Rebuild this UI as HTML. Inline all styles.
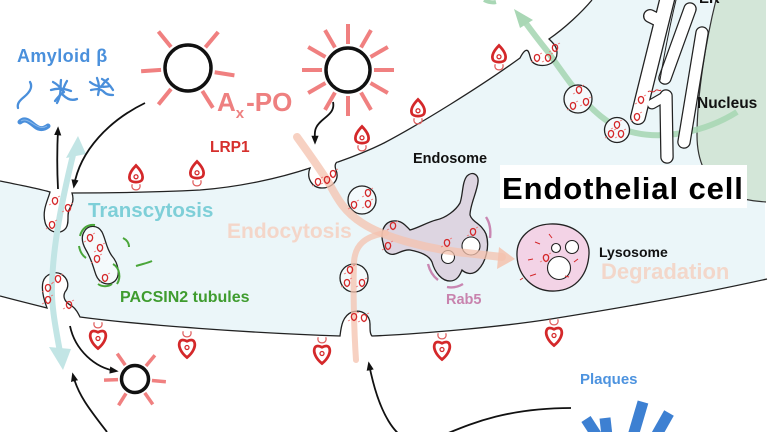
<!DOCTYPE html>
<html><head><meta charset="utf-8">
<style>
html,body{margin:0;padding:0;background:#fff;}
svg{display:block;}
text{font-family:"Liberation Sans",Arial,sans-serif;font-weight:bold;}
</style></head>
<body>
<svg width="768" height="432" viewBox="0 0 768 432" xmlns="http://www.w3.org/2000/svg">
<defs>
  <marker id="ah" viewBox="0 0 10 10" refX="7" refY="5" markerWidth="9" markerHeight="9" markerUnits="userSpaceOnUse" orient="auto">
    <path d="M0,1 L10,5 L0,9 z" fill="#111"/>
  </marker>
  <g id="ru">
    <path d="M0,-22 C-4,-18 -6,-14 -5,-11 C-4,-8 4,-8 5,-11 C6,-14 4,-18 0,-22 Z" stroke="#d4282a" stroke-width="2.2" fill="none"/>
    <circle cx="0" cy="-13" r="1.6" stroke="#d4282a" stroke-width="1" fill="none"/>
    <path d="M-3,-7 C-5,-1 5,-1 3,-7" stroke="#e06060" stroke-width="1" fill="none"/>
  </g>
  <g id="rd">
    <path d="M-3,1 C-5,7 5,7 3,1" stroke="#e06060" stroke-width="1" fill="none"/>
    <path d="M0,22 C-5,18 -7,13 -6,10 C-5,7 -2,8 0,9 C2,8 5,7 6,10 C7,13 5,18 0,22 Z" stroke="#d4282a" stroke-width="2.2" fill="none"/>
    <circle cx="0" cy="14" r="1.6" stroke="#d4282a" stroke-width="1" fill="none"/>
  </g>
  <g id="dt">
    <path d="M0,-3.5 C3.5,-3 3.5,2 0,3.5 C-3.5,2 -3.5,-3 0,-3.5 Z" stroke="#d4282a" stroke-width="1.3" fill="none"/>
    <path d="M3,-4 L5,-5 M-4,3 L-6,4" stroke="#e77" stroke-width="0.8"/>
  </g>
</defs>

<rect width="768" height="432" fill="#fff"/>

<!-- cell body -->
<path fill="#ebf6f9" d="M0,181 C20,185 40,189 50,192 C48,200 42,210 45,222 C47,232 60,236 66,228 C70,222 66,214 70,208 C74,202 73,196 72,193 C110,193 160,192 200,190 C240,187 280,178 310,168 C306,178 312,188 322,188 C332,188 340,180 336,170 C334,165 336,162 338,162 C355,156 370,150 384,143 C420,124 480,87 520,58 C523,52 527,47 529,53 C531,58 530,63 538,65 C548,67 557,62 557,53 C557,46 552,42 549,39 C565,28 582,12 592,0 L765,0 L765,279 L767,279 C700,294 620,308 551,319 C500,327 420,334 372,336 C370,334 370,330 370,324 C370,315 362,309 352,312 C342,316 341,328 340,336 C250,333 140,325 80,317 C78,313 76,309 72,306 C66,303 62,298 65,292 C70,286 68,278 61,274 C55,271 45,274 43,282 C41,290 44,300 47,308 C35,305 15,300 0,296 Z"/>

<!-- nucleus -->
<path d="M716,0 C706,40 697,95 697,135 C697,160 705,180 725,192 C738,199 752,201 766,202 L766,0 Z" fill="#d3e6d8"/>
<path d="M716,0 C706,40 697,95 697,135 C697,160 705,180 725,192 C738,199 752,201 766,202" fill="none" stroke="#333" stroke-width="1.2"/>

<!-- green arrow -->
<path d="M737,112 C705,132 660,142 625,130 C595,120 575,90 548,52 C540,42 533,33 525,22" fill="none" stroke="#a9d7b5" stroke-width="6" stroke-opacity="0.9"/>
<polygon points="514,9 533,20 520,28" fill="#a9d7b5"/>
<path d="M484,0 C488,2 492,3 496,2" stroke="#a9d7b5" stroke-width="4" fill="none"/>

<!-- ER / golgi tubes -->
<g stroke-linecap="round" fill="none">
  <g stroke="#222">
    <line x1="668" y1="-4" x2="638" y2="117" stroke-width="16"/>
    <line x1="650" y1="16" x2="662" y2="22" stroke-width="14"/>
    <line x1="690" y1="9" x2="665" y2="78" stroke-width="13.5"/>
    <line x1="702" y1="33" x2="684" y2="142" stroke-width="13.5"/>
    <line x1="666" y1="96" x2="667" y2="157" stroke-width="13.5"/>
    <line x1="652" y1="104" x2="666" y2="96" stroke-width="11"/>
  </g>
  <g stroke="#fff">
    <line x1="668" y1="-4" x2="638" y2="117" stroke-width="13.4"/>
    <line x1="650" y1="16" x2="662" y2="22" stroke-width="11.4"/>
    <line x1="690" y1="9" x2="665" y2="78" stroke-width="11"/>
    <line x1="702" y1="33" x2="684" y2="142" stroke-width="11"/>
    <line x1="666" y1="96" x2="667" y2="157" stroke-width="11"/>
    <line x1="652" y1="104" x2="666" y2="96" stroke-width="8.6"/>
  </g>
  <path d="M676,0 C670,25 665,50 660,80" stroke="#222" stroke-width="1"/>
</g>
<text x="699" y="3" font-size="15" fill="#111">ER</text>

<!-- membranes -->
<g fill="none" stroke="#222" stroke-width="1.3">
<path d="M0,181 C20,185 40,189 50,192 C48,200 42,210 45,222 C47,232 60,236 66,228 C70,222 66,214 70,208 C74,202 73,196 72,193 C110,193 160,192 200,190 C240,187 280,178 310,168 C306,178 312,188 322,188 C332,188 340,180 336,170 C334,165 336,162 338,162 C355,156 370,150 384,143 C420,124 480,87 520,58 C523,52 527,47 529,53 C531,58 530,63 538,65 C548,67 557,62 557,53 C557,46 552,42 549,39 C565,28 582,12 592,0"/>
<path d="M0,296 C15,300 35,305 47,308 C44,300 41,290 43,282 C45,274 55,271 61,274 C68,278 70,286 65,292 C62,298 66,303 72,306 C76,309 78,313 80,317 C140,325 250,333 340,336 C341,328 342,316 352,312 C362,309 370,315 370,324 C370,330 370,334 372,336 C420,334 500,327 551,319 C620,308 700,294 767,279"/>
</g>

<!-- teal transcytosis arrow -->
<path d="M60,352 C56,330 51,305 52,285 C53,245 62,200 73,155" fill="none" stroke="#c2e5e5" stroke-width="6"/>
<polygon points="78,136 66,158 86,154" fill="#c2e5e5"/>
<polygon points="63,370 49,347 71,349" fill="#c2e5e5"/>

<!-- vesicles -->
<g fill="#f4fafc" stroke="#222" stroke-width="1.3">
  <circle cx="362" cy="200" r="14"/>
  <circle cx="354" cy="278" r="14"/>
  <circle cx="578" cy="99" r="14"/>
  <circle cx="617" cy="130" r="12.5"/>
</g>

<!-- PACSIN2 tubule -->
<path d="M84,232 C88,224 98,225 102,232 C106,240 106,248 112,256 C118,263 121,275 115,281 C108,287 99,283 96,275 C93,267 92,260 86,250 C82,243 81,237 84,232 Z" fill="#f4fafc" stroke="#222" stroke-width="1.3"/>
<g fill="none" stroke="#4aa63a" stroke-width="2">
  <path d="M80,236 C82,228 88,224 95,225"/>
  <path d="M79,246 C80,252 83,256 86,258"/>
  <path d="M113,264 C120,268 121,278 117,284"/>
  <path d="M98,284 C102,287 108,287 112,284"/>
  <path d="M123,238 C127,240 129,243 129,247"/>
  <path d="M136,266 C142,264 148,263 152,261"/>
</g>

<!-- endosome -->
<path d="M383,243 C380,232 384,222 393,221 C402,220 406,226 410,230 C418,228 428,222 436,220 C446,218 456,210 460,203 C463,195 462,182 467,176 C472,171 479,174 478,182 C477,192 470,205 470,215 C472,222 482,224 486,234 C490,246 486,262 478,270 C472,276 465,273 462,270 C460,275 457,281 450,281 C442,281 435,273 432,262 C429,255 420,252 410,250 C402,249 396,256 390,254 C384,252 384,247 383,243 Z" fill="#ddd5e1" stroke="#222" stroke-width="1.3"/>
<circle cx="448" cy="257" r="6.5" fill="#fff" stroke="#222" stroke-width="1.1"/>
<circle cx="471" cy="246" r="9" fill="#fff" stroke="#222" stroke-width="1.1"/>
<g fill="none" stroke="#c986b2" stroke-width="2.4">
  <path d="M486,217 C490,223 491,230 490,238"/>
  <path d="M428,264 C430,272 434,277 438,280"/>
  <path d="M447,287 C452,288 458,287 463,284"/>
</g>

<!-- lysosome -->
<path d="M517,256 C516,238 530,225 550,224 C572,223 590,236 589,254 C588,272 578,290 555,291 C533,292 518,276 517,256 Z" fill="#f3d3e6" stroke="#222" stroke-width="1.3"/>
<circle cx="559" cy="268" r="11.5" fill="#fff" stroke="#222" stroke-width="1.1"/>
<circle cx="556" cy="248" r="4.5" fill="#fff" stroke="#222" stroke-width="1.1"/>
<circle cx="572" cy="247" r="6.5" fill="#fff" stroke="#222" stroke-width="1.1"/>
<g stroke="#d4282a" stroke-width="1" fill="none">
  <path d="M535,242 L540,244"/><path d="M549,234 L552,238"/><path d="M528,260 L533,259"/>
  <path d="M530,276 L536,274"/><path d="M574,262 L578,259"/><path d="M565,276 L569,277"/>
  <path d="M520,280 L523,278"/>
</g>
<use href="#dt" x="546" y="258"/>

<!-- salmon endocytosis paths -->
<path d="M297,137 C310,155 322,172 330,185 C338,200 345,212 362,223 C385,238 430,250 475,254 L502,257" fill="none" stroke="#f4c2ae" stroke-width="8" stroke-opacity="0.75" stroke-linecap="round"/>
<polygon points="515,259 499,247 497,269" fill="#f4c2ae" fill-opacity="0.85"/>
<path d="M356,360 C354,330 353,290 354,262 C355,245 365,236 386,233" fill="none" stroke="#f4c2ae" stroke-width="6" stroke-opacity="0.75" stroke-linecap="round"/>

<!-- receptors -->
<use href="#ru" transform="translate(136,193) scale(1.25)"/>
<use href="#ru" transform="translate(197,189) scale(1.25)"/>
<use href="#ru" transform="translate(362,154) scale(1.25)"/>
<use href="#ru" transform="translate(418,127) scale(1.25)"/>
<use href="#ru" transform="translate(499,73) scale(1.25)"/>
<use href="#rd" transform="translate(98,321) scale(1.25)"/>
<use href="#rd" transform="translate(187,330) scale(1.25)"/>
<use href="#rd" transform="translate(322,336) scale(1.25)"/>
<use href="#rd" transform="translate(442,332) scale(1.25)"/>
<use href="#rd" transform="translate(554,318) scale(1.25)"/>

<!-- dots in vesicles -->
<g>
  <use href="#dt" x="55" y="201"/><use href="#dt" x="68" y="208"/><use href="#dt" x="52" y="225"/>
  <use href="#dt" x="58" y="279"/><use href="#dt" x="48" y="288"/><use href="#dt" x="48" y="300"/><use href="#dt" x="69" y="305"/>
  <use href="#dt" x="318" y="182"/><use href="#dt" x="327" y="180"/><use href="#dt" x="333" y="174"/>
  <use href="#dt" x="368" y="193"/><use href="#dt" x="354" y="205"/><use href="#dt" x="368" y="204"/>
  <use href="#dt" x="350" y="270"/><use href="#dt" x="347" y="283"/><use href="#dt" x="362" y="283"/>
  <use href="#dt" x="354" y="317"/><use href="#dt" x="364" y="318"/>
  <use href="#dt" x="393" y="226"/><use href="#dt" x="388" y="246"/><use href="#dt" x="447" y="243"/><use href="#dt" x="473" y="232"/>
  <use href="#dt" x="537" y="58"/><use href="#dt" x="548" y="58"/><use href="#dt" x="555" y="48"/>
  <use href="#dt" x="579" y="90"/><use href="#dt" x="573" y="106"/><use href="#dt" x="586" y="102"/>
  <use href="#dt" x="617" y="125"/><use href="#dt" x="611" y="134"/><use href="#dt" x="621" y="134"/>
  <use href="#dt" x="641" y="100"/><use href="#dt" x="637" y="117"/>
  <use href="#dt" x="90" y="238"/><use href="#dt" x="100" y="248"/><use href="#dt" x="97" y="259"/><use href="#dt" x="105" y="278"/>
</g>
<path d="M648,92 C650,89 652,94 655,91 C657,88 659,92 661,90" stroke="#d4282a" stroke-width="1" fill="none"/>

<!-- nanoparticles -->
<g stroke="#f08080" stroke-width="4">
  <g transform="translate(188,68)">
    <line x1="27" y1="0" x2="47" y2="0" transform="rotate(-129)"/>
    <line x1="27" y1="0" x2="47" y2="0" transform="rotate(-50)"/>
    <line x1="27" y1="0" x2="47" y2="0" transform="rotate(176)"/>
    <line x1="27" y1="0" x2="47" y2="0" transform="rotate(9)"/>
    <line x1="27" y1="0" x2="47" y2="0" transform="rotate(58)"/>
    <line x1="27" y1="0" x2="47" y2="0" transform="rotate(129)"/>
  </g>
  <g transform="translate(348,70)">
    <line x1="26" y1="0" x2="46" y2="0" transform="rotate(0)"/>
    <line x1="26" y1="0" x2="46" y2="0" transform="rotate(30)"/>
    <line x1="26" y1="0" x2="46" y2="0" transform="rotate(60)"/>
    <line x1="26" y1="0" x2="46" y2="0" transform="rotate(90)"/>
    <line x1="26" y1="0" x2="46" y2="0" transform="rotate(120)"/>
    <line x1="26" y1="0" x2="46" y2="0" transform="rotate(150)"/>
    <line x1="26" y1="0" x2="46" y2="0" transform="rotate(180)"/>
    <line x1="26" y1="0" x2="46" y2="0" transform="rotate(210)"/>
    <line x1="26" y1="0" x2="46" y2="0" transform="rotate(240)"/>
    <line x1="26" y1="0" x2="46" y2="0" transform="rotate(270)"/>
    <line x1="26" y1="0" x2="46" y2="0" transform="rotate(300)"/>
    <line x1="26" y1="0" x2="46" y2="0" transform="rotate(330)"/>
  </g>
  <g transform="translate(135,379)" stroke-width="3.5">
    <line x1="17" y1="0" x2="31" y2="0" transform="rotate(-125)"/>
    <line x1="17" y1="0" x2="31" y2="0" transform="rotate(-50)"/>
    <line x1="17" y1="0" x2="31" y2="0" transform="rotate(178)"/>
    <line x1="17" y1="0" x2="31" y2="0" transform="rotate(5)"/>
    <line x1="17" y1="0" x2="31" y2="0" transform="rotate(55)"/>
    <line x1="17" y1="0" x2="31" y2="0" transform="rotate(122)"/>
  </g>
</g>
<circle cx="188" cy="68" r="23" fill="#fff" stroke="#111" stroke-width="3.5"/>
<circle cx="348" cy="70" r="22" fill="#fff" stroke="#111" stroke-width="3.5"/>
<circle cx="135" cy="379" r="13.5" fill="#fff" stroke="#111" stroke-width="3.5"/>

<!-- black arrows -->
<g fill="none" stroke="#111" stroke-width="1.8" marker-end="url(#ah)">
  <path d="M145,103 C110,120 80,150 74,186"/>
  <path d="M58,189 C57,170 57,150 58,129"/>
  <path d="M333,102 C336,115 320,118 316,128 C314,132 315,136 315,142"/>
  <path d="M70,326 C75,350 95,368 116,371"/>
  <path d="M107,432 C90,410 78,395 73,375"/>
  <path d="M571,408 C480,408 445,440 420,442 C395,444 378,410 369,364"/>
</g>

<!-- plaques -->
<g stroke="#3d80d2" stroke-width="11" stroke-linecap="butt">
  <line x1="586" y1="419" x2="597" y2="436"/>
  <line x1="605" y1="418" x2="607" y2="436"/>
  <line x1="643" y1="402" x2="633" y2="436"/>
  <line x1="669" y1="413" x2="656" y2="436"/>
</g>

<!-- amyloid -->
<g fill="none" stroke="#4a8fdb" stroke-width="2.3" stroke-linecap="round">
  <path d="M30,82 C33,87 30,92 24,97 C19,101 17,104 18,108"/>
  <path d="M51,90 C57,88 63,88 71,91"/>
  <path d="M61,80 C60,86 62,94 57,103"/>
  <path d="M63,95 C67,99 72,101 77,99"/>
  <path d="M53,82 C57,84 60,87 63,91"/>
  <path d="M55,101 C58,97 61,94 64,92"/>
  <path d="M67,81 C65,84 64,87 63,90"/>
  <path d="M90,82 C95,86 102,88 110,86"/>
  <path d="M97,78 C99,83 100,88 98,95"/>
  <path d="M102,79 C106,81 110,85 113,90"/>
  <path d="M91,90 C96,89 100,88 104,92"/>
  <path d="M104,92 C106,94 108,95 113,95"/>
  <path d="M108,79 C105,81 103,84 101,87"/>
</g>
<path d="M20,122 C25,117 30,122 35,126 C40,130 44,129 48,126" fill="none" stroke="#4a8fdb" stroke-width="5" stroke-linecap="round"/>
<path d="M21,121 C25,118 30,122 35,125 C40,128 44,128 47,126" fill="none" stroke="#8bb8ea" stroke-width="1"/>

<!-- white label box -->
<rect x="500" y="165" width="247" height="43" fill="#fff"/>

<!-- text -->
<text x="17" y="62" font-size="18" fill="#4a90dc" letter-spacing="0.4">Amyloid β</text>
<text x="217" y="111" font-size="26" fill="#ee8080">A<tspan font-size="15" dy="7">x</tspan><tspan dy="-7" dx="2">-PO</tspan></text>
<text x="210" y="152" font-size="15.5" fill="#d6302d">LRP1</text>
<text x="88" y="217" font-size="20.5" fill="#7ecfd8">Transcytosis</text>
<text x="227" y="238" font-size="21" fill="#f4d6c9">Endocytosis</text>
<text x="120" y="302" font-size="16" fill="#3f9c2f">PACSIN2 tubules</text>
<text x="413" y="163" font-size="14.5" fill="#111">Endosome</text>
<text x="446" y="304" font-size="14.5" fill="#c883ae">Rab5</text>
<text x="599" y="257" font-size="14" fill="#111">Lysosome</text>
<text x="601" y="279" font-size="22" fill="#f3d7ca">Degradation</text>
<text x="580" y="384" font-size="15" fill="#4d93df">Plaques</text>
<text x="697" y="108" font-size="15.5" fill="#111">Nucleus</text>
<text x="502" y="199" font-size="31" fill="#000" letter-spacing="0.9">Endothelial cell</text>
</svg>
</body></html>
